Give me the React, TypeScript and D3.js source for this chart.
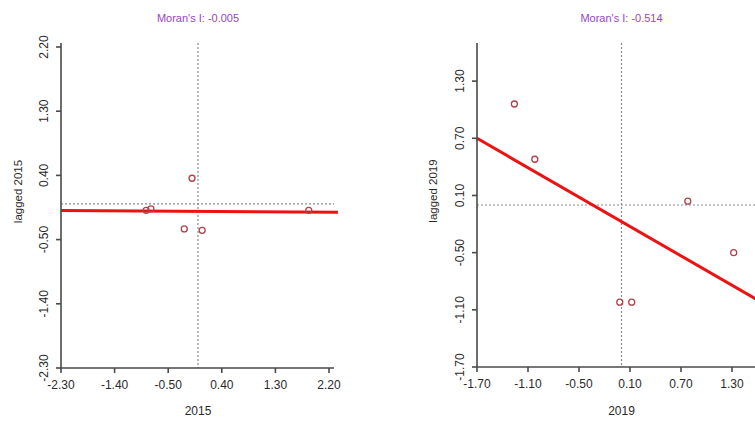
import * as d3 from 'd3';
import React from 'react';

// 2015 panel
const x2015 = [-0.87, -0.79, -0.10, -0.23, 0.07, 1.86];
const lag2015 = [-0.09, -0.07, 0.36, -0.35, -0.37, -0.09];
const ticks2015 = [-2.3, -1.4, -0.5, 0.4, 1.3, 2.2];
const moran2015 = -0.005;
const intercept2015 = -0.105;

// 2019 panel
const x2019 = [-1.26, -1.02, 0.78, 1.32, -0.02, 0.12];
const lag2019 = [1.06, 0.48, 0.04, -0.50, -1.02, -1.02];
const xTicks2019 = [-1.7, -1.1, -0.5, 0.1, 0.7, 1.3];
const yTicks2019 = [-1.7, -1.1, -0.5, 0.1, 0.7, 1.3];
const moran2019 = -0.514;
const intercept2019 = -0.174;

const FONT = '"Liberation Sans", Arial, sans-serif';
const AXIS = '#4a4a4a';

type PanelProps = {
  xs: number[];
  ys: number[];
  xTicks: number[];
  yTicks: number[];
  xDomain: [number, number];
  yDomain: [number, number];
  xRange: [number, number];
  yRange: [number, number];
  axisTop: number;
  axisRight: number;
  lineEnd: number;
  slope: number;
  intercept: number;
  year: string;
  yLabelX: number;
};

function Panel(p: PanelProps) {
  const x = d3.scaleLinear().domain(p.xDomain).range(p.xRange);
  const y = d3.scaleLinear().domain(p.yDomain).range(p.yRange);
  const x0 = p.xRange[0];
  const y0 = p.yRange[0];
  // R-style labels with a plain hyphen for the minus sign
  const fmt = (v: number) => v.toFixed(2);
  const regY = (v: number) => y(p.intercept + p.slope * v);
  return (
    <g>
      <text x={x(0)} y={22} textAnchor="middle" fontFamily={FONT} fontSize={11}
        fill="#9a45c2">{`Moran's I: ${p.slope.toFixed(3)}`}</text>
      {/* mean reference lines */}
      <line x1={x(0)} x2={x(0)} y1={p.axisTop} y2={y0} stroke="#8a8a8a"
        strokeWidth={1.2} strokeDasharray="2,2" />
      <line x1={x0} x2={p.axisRight} y1={y(0)} y2={y(0)} stroke="#8a8a8a"
        strokeWidth={1.2} strokeDasharray="2,2" />
      {/* regression */}
      <line x1={x0} x2={x(p.lineEnd)} y1={regY(p.xDomain[0])} y2={regY(p.lineEnd)}
        stroke="#ee1111" strokeWidth={3} />
      {p.xs.map((v, i) => (
        <circle key={i} cx={x(v)} cy={y(p.ys[i])} r={3} fill="none"
          stroke="#b2404a" strokeWidth={1.3} />
      ))}
      {/* axes */}
      <line x1={x0} x2={p.axisRight} y1={y0} y2={y0} stroke={AXIS} strokeWidth={1.6} />
      <line x1={x0} x2={x0} y1={y0} y2={p.axisTop} stroke={AXIS} strokeWidth={1.6} />
      {p.xTicks.map((t) => (
        <g key={'x' + t} transform={`translate(${x(t)},${y0})`}>
          <line y1={0} y2={5} stroke={AXIS} strokeWidth={1.6} />
          <text y={21} textAnchor="middle" fontFamily={FONT} fontSize={12}
            fill="#2a2a2a">{fmt(t)}</text>
        </g>
      ))}
      {p.yTicks.map((t) => (
        <g key={'y' + t} transform={`translate(${x0},${y(t)})`}>
          <line x1={0} x2={-5} stroke={AXIS} strokeWidth={1.6} />
          <text transform="translate(-17,0) rotate(-90)" textAnchor="middle"
            dy="0.35em" fontFamily={FONT} fontSize={12} fill="#2a2a2a">{fmt(t)}</text>
        </g>
      ))}
      <text x={x(0)} y={415} textAnchor="middle" fontFamily={FONT} fontSize={12}
        fill="#2a2a2a">{p.year}</text>
      <text transform={`translate(${p.yLabelX},${(p.yRange[0] + p.axisTop) / 2 - 14}) rotate(-90)`}
        textAnchor="middle" dy="0.35em" fontFamily={FONT} fontSize={11.5}
        fill="#2a2a2a">{`lagged ${p.year}`}</text>
    </g>
  );
}

export default function App() {
  return (
    <svg width={755} height={424} style={{ position: 'absolute', left: 0, top: 0, background: '#fff' }}>
      <Panel xs={x2015} ys={lag2015} xTicks={ticks2015} yTicks={ticks2015}
        xDomain={[-2.3, 2.2]} yDomain={[-2.3, 2.2]} xRange={[61, 329]} yRange={[368, 47]}
        axisTop={43} axisRight={334} lineEnd={2.35} slope={moran2015}
        intercept={intercept2015} year="2015" yLabelX={18} />
      <Panel xs={x2019} ys={lag2019} xTicks={xTicks2019} yTicks={yTicks2019}
        xDomain={[-1.7, 1.9]} yDomain={[-1.7, 1.7]} xRange={[477, 783]} yRange={[367, 43]}
        axisTop={43} axisRight={790} lineEnd={1.9} slope={moran2019}
        intercept={intercept2019} year="2019" yLabelX={433} />
    </svg>
  );
}
